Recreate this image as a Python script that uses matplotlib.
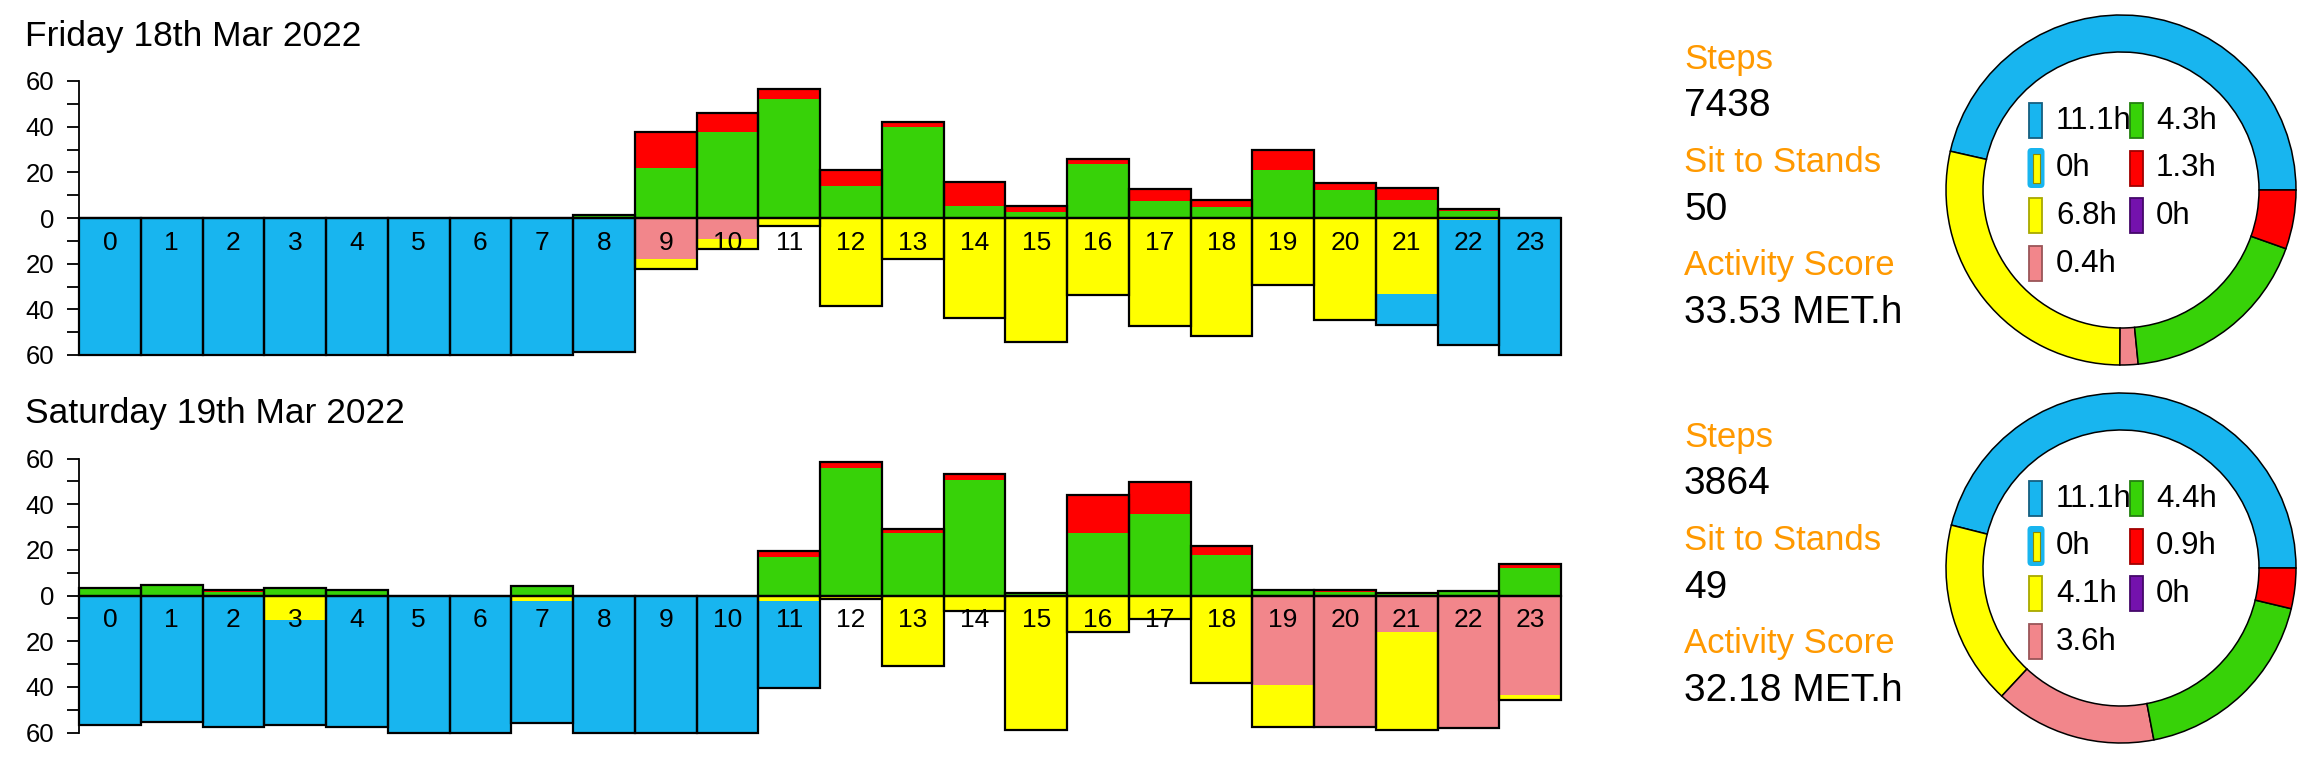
import matplotlib
matplotlib.use("Agg")
import matplotlib.pyplot as plt
from matplotlib.patches import Rectangle, FancyBboxPatch

plt.rcParams['font.family'] = ['Liberation Sans', 'DejaVu Sans']

# colours
BLUE = '#18b5ef'
YELLOW = '#ffff00'
PINK = '#f2868b'
GREEN = '#37d208'
RED = '#ff0000'
PURPLE = '#7412ad'
ORANGE = '#ff9900'

hours = list(range(24))

# Friday: minutes per hour in each activity
fri_green = [0, 0, 0, 0, 0, 0, 0, 0, 1.2, 22, 37.5, 52, 14, 40, 5.4, 2.5, 23.5, 7.6, 5, 21, 12.4, 8, 3, 0]
fri_red = [0, 0, 0, 0, 0, 0, 0, 0, 0, 15.5, 8.5, 4.6, 7, 2, 10.4, 2.6, 2.5, 5, 3, 9, 3, 5, 1, 0]
fri_pink = [0, 0, 0, 0, 0, 0, 0, 0, 0, 18, 9, 0, 0, 0, 0, 0, 0, 0, 0, 0, 0, 0, 0, 0]
fri_yellow = [0, 0, 0, 0, 0, 0, 0, 0, 0, 4.3, 4.5, 3.5, 38.4, 17.8, 44, 54.5, 33.7, 47.4, 51.8, 29.5, 44.5, 33.4, 0.7, 0]
fri_blue = [60, 60, 60, 60, 60, 60, 60, 60, 58.8, 0, 0, 0, 0, 0, 0, 0, 0, 0, 0, 0, 0, 13.3, 55, 60]

# Saturday
sat_green = [3.2, 4.7, 1.7, 3.2, 2.2, 0, 0, 4, 0, 0, 0, 17, 56, 27.4, 50.8, 1.0, 27.4, 35.9, 17.6, 1.8, 1.5, 0.8, 1.9, 11.9]
sat_red = [0, 0, 0.5, 0, 0, 0, 0, 0, 0, 0, 0, 2.6, 2.4, 1.7, 2.5, 0.3, 16.5, 13.6, 4.1, 0.4, 0.7, 0.2, 0, 2.1]
sat_pink = [0, 0, 0, 0, 0, 0, 0, 0, 0, 0, 0, 0, 0, 0, 0, 0, 0, 0, 0, 39.2, 57, 16.1, 57.5, 43.6]
sat_yellow = [0, 0, 0, 10.7, 0, 0, 0, 2.5, 0, 0, 0, 2.2, 1.5, 30.9, 6.6, 59, 16.1, 10.4, 38.5, 18.3, 0.8, 42.9, 0.6, 2.2]
sat_blue = [56.8, 55.3, 57.8, 46.1, 57.8, 60, 60, 53.3, 60, 60, 60, 38.5, 0, 0, 0, 0, 0, 0, 0, 0, 0, 0, 0, 0]

# daily totals (hours) for the donut legend
cat_colors = [BLUE, YELLOW, YELLOW, PINK, GREEN, RED, PURPLE]
cat_edges = ['#155f80', '#155f80', '#a8a800', '#9a5558', '#238010', '#a00000', '#45086a']
fri_totals = [11.1, 0, 6.8, 0.4, 4.3, 1.3, 0]
sat_totals = [11.1, 0, 4.1, 3.6, 4.4, 0.9, 0]

fri_stats = ['7438', '50', '33.53 MET.h']
sat_stats = ['3864', '49', '32.18 MET.h']
stat_names = ['Steps', 'Sit to Stands', 'Activity Score']

W, H = 2320, 760
fig = plt.figure(figsize=(W / 100, H / 100), dpi=100)


def px_axes(x0, y0, w, h):
    return fig.add_axes([x0 / W, 1 - (y0 + h) / H, w / W, h / H])


def draw_day(ax, green, red, pink, yellow, blue):
    pos = [g + r for g, r in zip(green, red)]
    neg = [p + y + b for p, y, b in zip(pink, yellow, blue)]
    ax.bar(hours, green, width=1, color=GREEN, lw=0)
    ax.bar(hours, red, bottom=green, width=1, color=RED, lw=0)
    ax.bar(hours, [-p for p in pink], width=1, color=PINK, lw=0)
    ax.bar(hours, [-y for y in yellow], bottom=[-p for p in pink], width=1, color=YELLOW, lw=0)
    ax.bar(hours, [-b for b in blue], bottom=[-(p + y) for p, y in zip(pink, yellow)],
           width=1, color=BLUE, lw=0)
    ax.bar(hours, pos, width=1, fill=False, edgecolor='black', lw=1.6, clip_on=False)
    ax.bar(hours, [-n for n in neg], width=1, fill=False, edgecolor='black', lw=1.6, clip_on=False)
    for h in hours:
        ax.text(h, -14, str(h), ha='center', va='baseline', fontsize=19)
    ax.set_xlim(-0.5, 23.5)
    ax.set_ylim(-60, 60)
    for s in ['top', 'right', 'bottom']:
        ax.spines[s].set_visible(False)
    ax.spines['left'].set_linewidth(1.3)
    ax.set_xticks([])
    ticks = list(range(-60, 61, 10))
    ax.set_yticks(ticks)
    ax.set_yticklabels([str(abs(t)) if t % 20 == 0 else '' for t in ticks])
    ax.tick_params(axis='y', length=8.6, width=1.3, pad=9, labelsize=18.5)


def draw_donut(cx, cy, totals):
    ax = px_axes(cx - 190, cy - 190, 380, 380)
    vals = [v for v in totals if v > 0]
    cols = [c for v, c in zip(totals, cat_colors) if v > 0]
    ax.pie(vals, colors=cols, radius=175, startangle=0, counterclock=True,
           wedgeprops=dict(width=37, edgecolor='black', linewidth=1.1))
    ax.set_xlim(-190, 190)
    ax.set_ylim(-190, 190)
    ax.set_aspect('equal')
    ax.axis('off')
    for i, v in enumerate(totals):
        col = 0 if i < 4 else 1
        row = i if i < 4 else i - 4
        sx = -92 if col == 0 else 9
        tx = -65 if col == 0 else 35
        ry = 69.5 - row * 47.5
        if i == 1:
            ax.add_patch(FancyBboxPatch((-93.5, ry - 20), 17, 40,
                                        boxstyle='round,pad=0,rounding_size=4',
                                        fc=BLUE, ec='none'))
            ax.add_patch(Rectangle((-88.5, ry - 14.5), 7, 29, fc=YELLOW, ec='#8a8a00', lw=0.8))
        else:
            ax.add_patch(Rectangle((sx, ry - 17.5), 13, 35, fc=cat_colors[i],
                                   ec=cat_edges[i], lw=1.3))
        ax.text(tx, ry - 8.5, f'{v:g}h', fontsize=22.5, ha='left', va='baseline')


def draw_stats(y_off, stats):
    label_y = [69, 172, 275]
    value_y = [116, 220, 323]
    for name, val, ly, vy in zip(stat_names, stats, label_y, value_y):
        fig.text(1684 / W, 1 - (ly + y_off) / H, name, color=ORANGE, fontsize=25,
                 ha='left', va='baseline')
        fig.text(1684 / W, 1 - (vy + y_off) / H, val, color='black', fontsize=28,
                 ha='left', va='baseline')


# Friday
fig.text(25 / W, 1 - 46 / H, 'Friday 18th Mar 2022', fontsize=25.5, va='baseline')
ax1 = px_axes(79, 81, 1482, 274)
draw_day(ax1, fri_green, fri_red, fri_pink, fri_yellow, fri_blue)
draw_stats(0, fri_stats)
draw_donut(2121, 190, fri_totals)

# Saturday
fig.text(25 / W, 1 - 423 / H, 'Saturday 19th Mar 2022', fontsize=25.5, va='baseline')
ax2 = px_axes(79, 458.5, 1482, 274)
draw_day(ax2, sat_green, sat_red, sat_pink, sat_yellow, sat_blue)
draw_stats(378, sat_stats)
draw_donut(2121, 568, sat_totals)

fig.savefig('out.png', dpi=100)
